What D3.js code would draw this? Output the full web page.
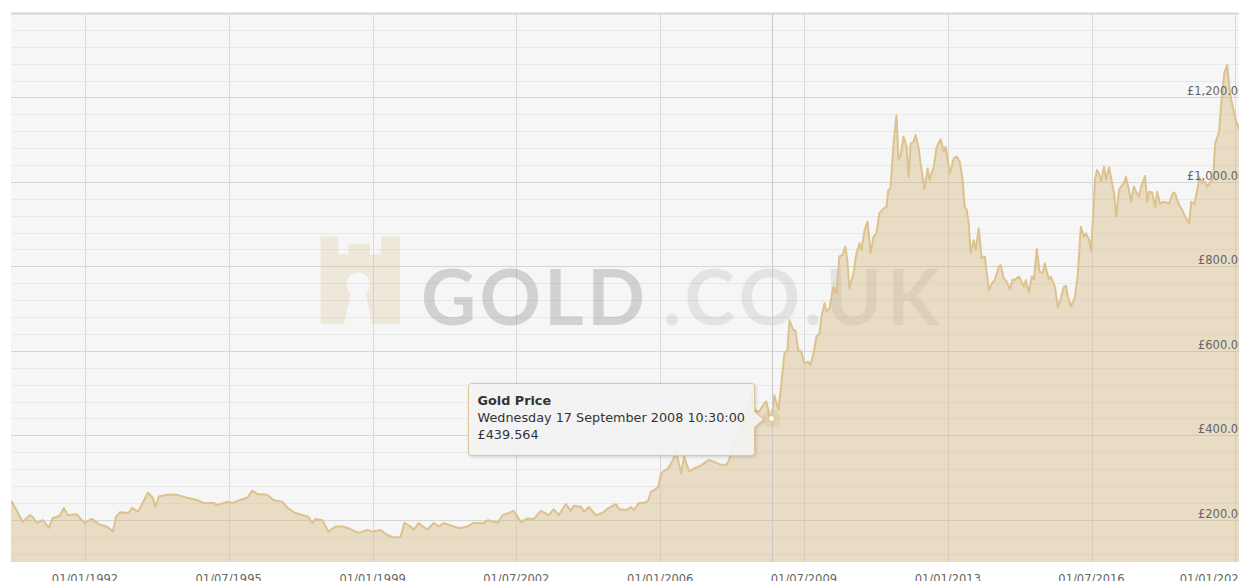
<!DOCTYPE html>
<html>
<head>
<meta charset="utf-8">
<script src="https://cdn.jsdelivr.net/npm/d3@7"></script>
<style>
  body { margin: 0; background: #fff; overflow: hidden; }
  svg { display: block; font-family: "DejaVu Sans", Verdana, sans-serif; }
</style>
</head>
<body>
<div id="chart"></div>
<script>
// gold price (GBP / oz)
var priceDates = [
  "1990-03-14","1990-04-16","1990-06-26","1990-08-28","1990-09-24","1990-10-29","1990-12-22",
  "1991-02-14","1991-03-20","1991-05-21","1991-06-26","1991-08-01","1991-10-20","1991-12-04",
  "1992-01-01","1992-03-02","1992-05-12","1992-07-13","1992-09-06","1992-10-02","1992-11-08",
  "1993-01-18","1993-02-23","1993-04-16","1993-05-21","1993-07-13","1993-08-28","1993-09-15","1993-10-20",
  "1994-01-01","1994-03-28","1994-06-26","1994-09-24","1994-11-17",
  "1995-02-14","1995-03-20","1995-06-17","1995-08-10","1995-10-11","1995-12-13",
  "1996-01-27","1996-03-11","1996-06-08","1996-08-01","1996-10-20","1996-12-04",
  "1997-02-14","1997-06-08","1997-07-13","1997-08-10","1997-10-11","1997-12-04",
  "1998-02-05","1998-04-16","1998-06-17","1998-08-28","1998-11-17",
  "1999-01-01","1999-03-11","1999-05-12","1999-07-05","1999-09-06","1999-10-11","1999-12-04",
  "2000-01-01","2000-02-14","2000-03-02","2000-05-03","2000-06-26","2000-08-10","2000-09-24",
  "2001-02-05","2001-04-25","2001-06-17","2001-09-15","2001-10-20",
  "2002-01-18","2002-03-02","2002-04-25","2002-06-08","2002-08-10","2002-10-11","2002-12-04",
  "2003-02-05","2003-04-16","2003-05-30","2003-07-13","2003-09-15","2003-10-29","2003-11-25",
  "2004-01-27","2004-02-23","2004-04-07","2004-06-08","2004-08-10","2004-09-24","2004-12-04",
  "2005-01-01","2005-03-02","2005-04-16","2005-05-12","2005-06-26","2005-08-10","2005-09-15","2005-10-11","2005-11-08","2005-12-13",
  "2006-01-09","2006-03-11","2006-04-25","2006-05-21","2006-06-08","2006-07-05","2006-08-01","2006-09-15","2006-10-29","2006-12-13",
  "2007-01-27","2007-03-11","2007-04-25","2007-06-26","2007-08-10","2007-09-06","2007-10-11","2007-11-25",
  "2008-01-09","2008-02-23","2008-03-20","2008-04-16","2008-05-30","2008-07-05","2008-08-01","2008-08-28","2008-09-17","2008-10-11","2008-11-17","2008-12-13",
  "2009-01-09","2009-02-05","2009-02-23","2009-03-28","2009-04-16","2009-05-12","2009-06-08","2009-07-05","2009-08-10","2009-08-28","2009-09-24","2009-10-20","2009-11-17","2009-12-04",
  "2010-01-01","2010-01-18","2010-02-14","2010-03-20","2010-04-16","2010-05-12","2010-06-08","2010-07-05","2010-07-22","2010-08-10","2010-09-15","2010-10-11","2010-11-08","2010-11-25","2010-12-22",
  "2011-01-18","2011-02-14","2011-03-11","2011-04-07","2011-05-03","2011-05-30","2011-06-17","2011-07-05","2011-07-22","2011-08-10","2011-09-06","2011-10-02","2011-10-20","2011-11-08","2011-12-04",
  "2012-01-01","2012-01-18","2012-02-05","2012-03-02","2012-03-20","2012-04-16","2012-05-03","2012-06-08","2012-07-05","2012-07-22","2012-08-28","2012-09-24","2012-10-29","2012-11-25","2012-12-13",
  "2013-01-18","2013-02-23","2013-03-20","2013-04-16","2013-05-12","2013-05-30","2013-06-17","2013-07-05","2013-07-22","2013-08-19","2013-09-06","2013-10-02","2013-10-29","2013-11-25",
  "2014-01-01","2014-01-27","2014-02-23","2014-03-28","2014-04-16","2014-05-12","2014-06-08","2014-07-05","2014-08-01","2014-08-19","2014-09-24","2014-10-11","2014-11-08","2014-11-25","2014-12-22",
  "2015-01-18","2015-02-05","2015-03-02","2015-03-28","2015-04-25","2015-05-12","2015-06-17","2015-07-05","2015-08-10","2015-09-06","2015-10-02","2015-10-29","2015-11-17","2015-12-04",
  "2016-01-01","2016-02-05","2016-03-02","2016-03-28","2016-04-25","2016-05-12","2016-06-08","2016-06-26","2016-07-22","2016-08-01","2016-08-19","2016-09-06","2016-09-24","2016-10-20","2016-11-08","2016-12-04","2016-12-22",
  "2017-01-18","2017-02-05","2017-03-02","2017-03-20","2017-04-16","2017-05-03","2017-05-30","2017-06-17","2017-07-13","2017-08-01","2017-08-28","2017-09-15","2017-10-20","2017-11-08","2017-11-25","2017-12-22",
  "2018-01-18","2018-02-05","2018-03-02","2018-04-07","2018-05-21","2018-06-26","2018-07-13","2018-08-19","2018-09-15","2018-10-11","2018-11-17","2018-12-04",
  "2019-01-01","2019-01-27","2019-02-14","2019-03-11","2019-04-07","2019-04-25","2019-05-21","2019-06-17","2019-07-05","2019-08-10","2019-08-28","2019-09-24","2019-10-20","2019-11-08","2019-11-25","2019-12-22",
  "2020-01-09","2020-02-05","2020-02-23","2020-03-12"
];
var priceValues = [
  245, 231, 195, 211, 206, 192, 199,
  181, 204, 209, 228, 211, 213, 199,
  193, 202, 188, 184, 172, 207, 218,
  216, 228, 219, 237, 264, 251, 231, 255,
  259, 259, 252, 247, 240,
  240, 235, 242, 240, 247, 252,
  269, 261, 259, 247, 243, 228,
  216, 207, 192, 202, 199, 172,
  184, 184, 178, 169, 176,
  172, 176, 164, 158, 159, 193, 184,
  176, 192, 188, 177, 192, 184, 192,
  180, 184, 193, 192, 199,
  193, 211, 216, 221, 195, 203, 202,
  221, 211, 225, 211, 237, 221, 233,
  231, 219, 230, 211, 217, 227, 237,
  225, 223, 230, 223, 240, 240, 245, 266, 270, 278,
  310, 322, 342, 365, 342, 310, 349, 314, 322, 326,
  334, 342, 337, 330, 330, 342, 377, 397,
  420, 460, 495, 460, 456, 472, 480, 448, 439.564, 495, 460, 523,
  594, 602, 673, 649, 649, 602, 598, 571, 574, 566, 594, 633, 641, 681,
  713, 693, 701, 752, 736, 823, 827, 847, 815, 748, 784, 831, 855, 839, 886,
  906, 831, 870, 878, 926, 934, 938, 941, 981, 985, 1091, 1158, 1052, 1064, 1107,
  1083, 1011, 1091, 1095, 1111, 1080, 1044, 983, 1032, 1005, 1036, 1083, 1101, 1072, 1083,
  1020, 1056, 1060, 1048, 1005, 941, 934, 902, 831, 862, 839, 890, 819, 823,
  744, 760, 768, 799, 803, 772, 764, 746, 769, 768, 776, 768, 752, 768, 738,
  776, 769, 841, 787, 784, 807, 769, 776, 752, 703, 724, 752, 754, 728,
  705, 728, 784, 894, 870, 878, 864, 835, 949, 1005, 1028, 1019, 1001, 1036, 1005, 1035, 1009,
  973, 918, 981, 989, 997, 1012, 981, 953, 989, 977, 965, 989, 1014, 953, 977, 975,
  941, 977, 949, 953, 949, 975, 973, 945, 934, 918, 902, 953,
  948, 981, 1011, 997, 1001, 989, 998, 1009, 1091, 1119, 1186, 1257, 1277, 1226, 1194, 1162,
  1143, 1123, 1175, 1200
];

var xTickDates = ["1992-01-01", "1995-07-01", "1999-01-01", "2002-07-01", "2006-01-01",
                  "2009-07-01", "2013-01-01", "2016-07-01", "2020-01-01"];
var yTickValues = [200, 400, 600, 800, 1000, 1200];
var xDomain = ["1990-03-14", "2020-05-01"];
var yDomain = [100, 1400];

// hovered point shown in the tooltip
var tooltipTitle = "Gold Price";
var tooltipTime = "2008-09-17 10:30:00";

var width = 1239, height = 581;
var plot = {left: 11, top: 13, right: 1249, bottom: 562};

var parseDay = d3.timeParse("%Y-%m-%d");
var parseTime = d3.timeParse("%Y-%m-%d %H:%M:%S");

var data = priceDates.map(function(d, i) {
  return {date: parseDay(d), price: priceValues[i]};
});

var x = d3.scaleTime().domain(xDomain.map(parseDay)).range([plot.left, plot.right]);
var y = d3.scaleLinear().domain(yDomain).range([plot.bottom, plot.top]);

var svg = d3.select('#chart').append('svg')
  .attr('width', width)
  .attr('height', height);

svg.append('clipPath').attr('id', 'plot-clip')
  .append('rect')
  .attr('x', plot.left).attr('y', plot.top)
  .attr('width', plot.right - plot.left).attr('height', plot.bottom - plot.top);

// plot background
svg.append('rect')
  .attr('x', plot.left).attr('y', plot.top)
  .attr('width', plot.right - plot.left).attr('height', plot.bottom - plot.top)
  .attr('fill', '#f6f6f6');

// horizontal grid: minor every 40, major every 200
var gridVals = d3.range(yDomain[0] + 20, yDomain[1] + 1, 40);
svg.append('g').selectAll('line')
  .data(gridVals).enter().append('line')
  .attr('x1', plot.left).attr('x2', plot.right)
  .attr('y1', function(d) { return Math.round(y(d)) + 0.5; })
  .attr('y2', function(d) { return Math.round(y(d)) + 0.5; })
  .attr('stroke', function(d) { return d % 200 === 0 ? '#d6d6d6' : '#e8e8e8'; })
  .attr('stroke-width', function(d) { return d === yDomain[1] ? 2 : 1; });

// vertical grid at the date ticks
svg.append('g').selectAll('line')
  .data(xTickDates).enter().append('line')
  .attr('x1', function(d) { return Math.round(x(parseDay(d))) + 0.5; })
  .attr('x2', function(d) { return Math.round(x(parseDay(d))) + 0.5; })
  .attr('y1', plot.top).attr('y2', plot.bottom)
  .attr('stroke', '#dadada');

// watermark
var mark = svg.append('g');
mark.append('path')
  .attr('d', 'M320.7,236.7 H338.4 V254.3 H348.4 V244.3 H370 V254.3 H381 V236.7 H400 V324 H320.7 Z ' +
             'M344,324 L350.8,293.3 A11.7,11.7 0 1 1 365.8,293.3 L372,324 Z')
  .attr('fill', 'rgb(210,178,115)')
  .attr('fill-opacity', 0.2)
  .attr('fill-rule', 'evenodd');
mark.append('text')
  .attr('x', 421).attr('y', 325)
  .attr('textLength', 224).attr('lengthAdjust', 'spacing')
  .style('font-family', 'Lato, "Open Sans", sans-serif')
  .style('font-weight', 'bold').style('font-size', '76px')
  .attr('fill', '#7a7a7a').attr('fill-opacity', 0.3)
  .text('GOLD');
mark.append('text')
  .attr('x', 663).attr('y', 325)
  .attr('textLength', 276).attr('lengthAdjust', 'spacing')
  .style('font-family', 'Lato, "Open Sans", sans-serif')
  .style('font-weight', 'bold').style('font-size', '76px')
  .attr('fill', '#7a7a7a').attr('fill-opacity', 0.15)
  .text('.CO.UK');

// area + line
var area = d3.area()
  .x(function(d) { return x(d.date); })
  .y0(plot.bottom)
  .y1(function(d) { return y(d.price); });
var line = d3.line()
  .x(function(d) { return x(d.date); })
  .y(function(d) { return y(d.price); });

var series = svg.append('g').attr('clip-path', 'url(#plot-clip)');
series.append('path')
  .datum(data)
  .attr('d', area)
  .attr('fill', 'rgb(210,178,115)')
  .attr('fill-opacity', 0.38);
series.append('path')
  .datum(data)
  .attr('d', line)
  .attr('fill', 'none')
  .attr('stroke', '#dcc28c')
  .attr('stroke-width', 2)
  .attr('stroke-linejoin', 'round');

// hovered point
var hoverDate = parseTime(tooltipTime);
var hover = data.find(function(d) { return +d.date === +d3.timeDay.floor(hoverDate); });
var hx = x(hover.date), hy = y(hover.price);

svg.append('line')
  .attr('x1', Math.round(hx) + 0.5).attr('x2', Math.round(hx) + 0.5)
  .attr('y1', plot.top).attr('y2', plot.bottom)
  .attr('stroke', '#c9c9c9');
svg.append('circle')
  .attr('cx', hx).attr('cy', hy).attr('r', 9)
  .attr('fill', 'rgb(210,178,115)').attr('fill-opacity', 0.25);
svg.append('circle')
  .attr('cx', hx).attr('cy', hy).attr('r', 3)
  .attr('fill', '#fff')
  .attr('stroke', '#d8bd85').attr('stroke-width', 1);

// x labels
var fmtDate = d3.timeFormat('%d/%m/%Y');
var xLabels = svg.append('g').selectAll('text')
  .data(xTickDates).enter().append('text')
  .attr('x', function(d) { return x(parseDay(d)); })
  .attr('y', 583)
  .attr('text-anchor', 'middle')
  .style('font-size', '11.5px')
  .attr('fill', '#666')
  .text(function(d) { return fmtDate(parseDay(d)); });
// keep the last label inside the chart, like the original does
xLabels.each(function() {
  var bb = this.getBBox();
  if (bb.x + bb.width > 1246) {
    d3.select(this).attr('text-anchor', 'end').attr('x', 1246);
  }
});

// y labels (inside, on the right)
var fmtPrice = d3.format(',.2f');
svg.append('g').selectAll('text')
  .data(yTickValues).enter().append('text')
  .attr('x', 1245.5)
  .attr('y', function(d) { return Math.round(y(d)) - 2.5; })
  .attr('text-anchor', 'end')
  .style('font-size', '11.5px')
  .attr('fill', '#666')
  .text(function(d) { return '£' + fmtPrice(d); });

// tooltip
var fmtTip = d3.timeFormat('%A %d %B %Y %H:%M:%S');
var tip = svg.append('g');
var tipText = tip.append('g').style('font-size', '12.8px').attr('fill', '#333');
var t1 = tipText.append('text').style('font-weight', 'bold').text(tooltipTitle);
var t2 = tipText.append('text').text(fmtTip(hoverDate));
var t3 = tipText.append('text').text('£' + hover.price);

var textW = Math.max(t1.node().getComputedTextLength(), t2.node().getComputedTextLength(), t3.node().getComputedTextLength());
var boxW = Math.round(textW) + 19, boxH = 72;
var boxR = Math.round(hx) - 17.5, boxL = boxR - boxW;
var boxT = Math.round(hy) - 35.5, boxB = boxT + boxH;
var tipY = Math.round(hy) + 0.5, r = 3;

var callout = 'M' + (boxL + r) + ',' + boxT +
  ' H' + (boxR - r) + ' Q' + boxR + ',' + boxT + ' ' + boxR + ',' + (boxT + r) +
  ' V' + (tipY - 7.5) + ' L' + (boxR + 9) + ',' + tipY + ' L' + boxR + ',' + (tipY + 7.5) +
  ' V' + (boxB - r) + ' Q' + boxR + ',' + boxB + ' ' + (boxR - r) + ',' + boxB +
  ' H' + (boxL + r) + ' Q' + boxL + ',' + boxB + ' ' + boxL + ',' + (boxB - r) +
  ' V' + (boxT + r) + ' Q' + boxL + ',' + boxT + ' ' + (boxL + r) + ',' + boxT + ' Z';

tip.insert('path', ':first-child')
  .attr('d', callout)
  .attr('fill', 'rgba(248,248,248,0.88)')
  .attr('stroke', '#dfc696')
  .attr('stroke-width', 1)
  .style('filter', 'drop-shadow(1px 1px 1.5px rgba(0,0,0,0.18))');

t1.attr('x', boxL + 9).attr('y', boxT + 21);
t2.attr('x', boxL + 9).attr('y', boxT + 38);
t3.attr('x', boxL + 9).attr('y', boxT + 55);
</script>
</body>
</html>
